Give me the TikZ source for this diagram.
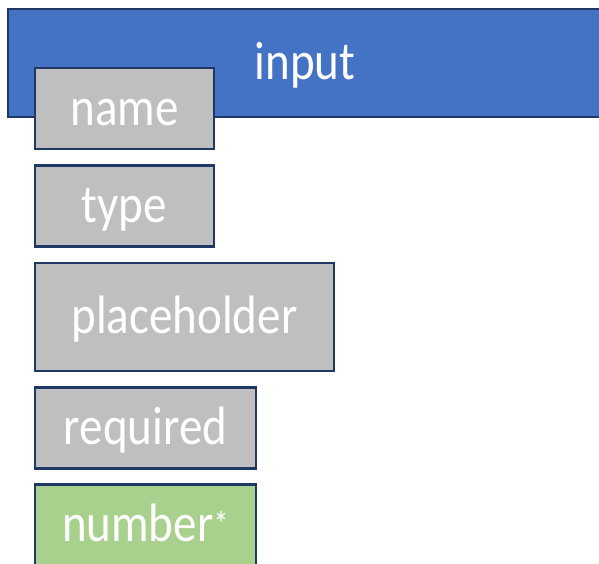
\documentclass[tikz,border=0pt]{standalone}
\usepackage{fontspec}
\setmainfont{Carlito}
\definecolor{inputblue}{HTML}{4472C4}
\definecolor{edgenavy}{HTML}{1F3864}
\definecolor{attrgray}{HTML}{BFBFBF}
\definecolor{valgreen}{HTML}{A9D18E}
\newcommand{\lbl}[1]{\scalebox{1}[1.15]{#1}}
\begin{document}
\begin{tikzpicture}[x=1pt,y=-1pt,
    box/.style={draw=edgenavy,line width=2.5pt,rectangle,inner sep=0pt,
      text=white,font=\fontsize{47}{50}\selectfont,text height=40pt,text depth=7pt},
    attr/.style={box,fill=attrgray,minimum height=81pt},
    value/.style={box,fill=valgreen,minimum height=81pt}]
  \useasboundingbox (0,0) rectangle (599,563);
  \node[box,fill=inputblue,minimum width=594pt,minimum height=108pt] (input) at (305,63) {\lbl{input}};
  \node[attr,minimum width=179pt] (name) at (124.5,108.5) {\lbl{name}};
  \node[attr,minimum width=179pt] (type) at (124.5,206) {\lbl{type}};
  \node[attr,minimum width=299pt,minimum height=108pt] (placeholder) at (184.5,317) {\lbl{placeholder}};
  \node[attr,minimum width=221pt] (required) at (145.5,428) {\lbl{required}};
  \node[value,minimum width=221pt] (number) at (145.5,525) {\lbl{number\raisebox{4pt}{\fontsize{31}{33}\selectfont *}}};
\end{tikzpicture}
\end{document}
